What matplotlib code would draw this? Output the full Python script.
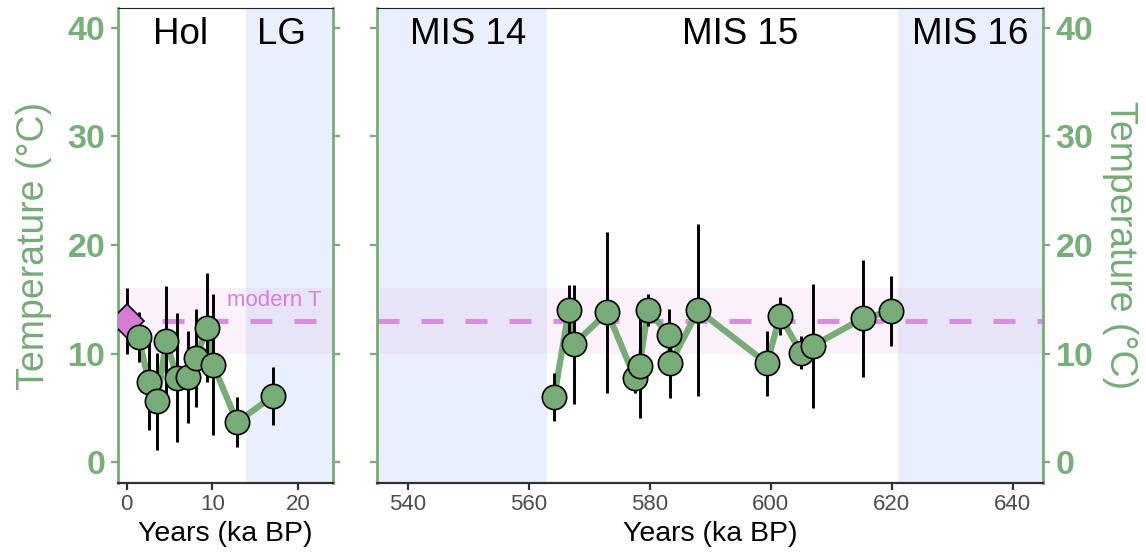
import matplotlib
matplotlib.use("Agg")
import matplotlib.pyplot as plt

# Holocene / Last Glacial reconstruction (ka BP, degC, 1-sigma)
hol_age = [1.4, 2.6, 3.6, 4.6, 5.9, 7.2, 8.1, 9.4, 10.1, 12.9, 17.1]
hol_temp = [11.5, 7.4, 5.6, 11.2, 7.8, 7.85, 9.6, 12.4, 9.0, 3.7, 6.1]
hol_err = [2.3, 4.4, 4.5, 5.0, 5.9, 4.2, 4.5, 5.0, 6.5, 2.3, 2.7]

# MIS 15 reconstruction
mis_age = [564.2, 566.6, 567.4, 573.0, 577.5, 578.3, 579.7, 583.2, 583.4,
           588.0, 599.4, 601.5, 605.0, 606.9, 615.2, 619.9]
mis_temp = [6.0, 14.0, 10.85, 13.8, 7.8, 8.9, 14.0, 11.7, 9.1,
            14.0, 9.1, 13.5, 10.1, 10.7, 13.25, 13.9]
mis_err = [2.2, 2.3, 5.5, 7.4, 1.4, 4.85, 1.5, 2.4, 3.2,
           7.9, 3.0, 1.75, 1.5, 5.7, 5.4, 3.2]

# Modern temperature and its range
modern_age = 0.0
modern_t = 13.0
modern_err = 3.0

# Period boundaries (ka BP)
lg_start = 14.0
mis14_end = 563.0
mis16_start = 621.0

yticks = [0, 10, 20, 30, 40]

GREEN = "#77AB78"
TICKGREEN = "#79AE7A"
BLUE_BAND = "#E9EFFC"
PINK = "#E7A6E7"
DASH = "#D88EE0"
DIAMOND = "#D57AD6"

plt.rcParams["font.family"] = ["Liberation Sans", "DejaVu Sans"]

W, H = 1146, 558
fig = plt.figure(figsize=(W / 100, H / 100), dpi=100)
axL = fig.add_axes([118 / W, 1 - 483 / H, (333 - 118) / W, (483 - 8) / H])
axR = fig.add_axes([377 / W, 1 - 483 / H, (1043 - 377) / W, (483 - 8) / H])

YLIM = (-1.9, 41.8)
axL.set_xlim(-1.0, 24.1)
axR.set_xlim(534.9, 645.0)


def draw_panel(ax, age, temp, err):
    x0, x1 = ax.get_xlim()
    ax.axhspan(modern_t - modern_err, modern_t + modern_err, color=PINK,
               alpha=0.15, lw=0, zorder=1)
    ax.plot([x0, x1], [modern_t, modern_t], color=DASH, lw=3.6,
            dashes=(4.4, 4.4), zorder=2, solid_capstyle="butt",
            dash_capstyle="butt")
    ax.plot(age, temp, color=GREEN, lw=4.5, zorder=3,
            solid_joinstyle="round")
    ax.errorbar(age, temp, yerr=err, fmt="none", ecolor="black",
                elinewidth=2.1, capsize=0, zorder=4)
    ax.plot(age, temp, "o", ms=17.5, mfc=GREEN, mec="black", mew=1.2,
            zorder=5, linestyle="none")
    ax.set_xlim(x0, x1)
    ax.set_ylim(*YLIM)
    ax.set_yticks(yticks)
    for s in ("left", "right"):
        ax.spines[s].set_color(GREEN)
        ax.spines[s].set_linewidth(2.0)
    ax.spines["bottom"].set_color("#333333")
    ax.spines["bottom"].set_linewidth(1.6)
    ax.spines["top"].set_color("#222222")
    ax.spines["top"].set_linewidth(0.8)
    ax.tick_params(axis="y", which="both", left=True, right=True,
                   color=GREEN, width=1.6, length=5, direction="out",
                   labelsize=24.5, labelcolor=TICKGREEN, pad=4)
    ax.tick_params(axis="x", color="#333333", width=1.6, length=5,
                   labelsize=16, labelcolor="#4D4D4D", pad=3)
    ax.set_xlabel("Years (ka BP)", fontsize=20.5, color="black", labelpad=4)


# Left panel: Holocene and Last Glacial
axL.axvspan(lg_start, 30, color=BLUE_BAND, lw=0, zorder=0)
draw_panel(axL, hol_age, hol_temp, hol_err)
axL.errorbar([modern_age], [modern_t], yerr=[modern_err], fmt="none",
             ecolor="black", elinewidth=2.1, capsize=0, zorder=4)
axL.plot([modern_age], [modern_t], "D", ms=17, mfc=DIAMOND, mec="black",
         mew=1.2, zorder=4.5)
axL.text(22.8, 14.85, "modern T", color="#D67FDB", fontsize=16,
         ha="right", va="center", zorder=6)
axL.set_xticks([0, 10, 20])
axL.tick_params(axis="y", labelleft=True, labelright=False)
for lbl in axL.get_yticklabels():
    lbl.set_fontweight("bold")
axL.set_ylabel("Temperature (°C)", fontsize=27, color=GREEN, labelpad=11)
axL.text(6.35, 39.4, "Hol", fontsize=26.5, ha="center", va="center")
axL.text(18.1, 39.4, "LG", fontsize=26.5, ha="center", va="center")

# Right panel: MIS 14 - MIS 16
axR.axvspan(500, mis14_end, color=BLUE_BAND, lw=0, zorder=0)
axR.axvspan(mis16_start, 700, color=BLUE_BAND, lw=0, zorder=0)
draw_panel(axR, mis_age, mis_temp, mis_err)
axR.set_xticks([540, 560, 580, 600, 620, 640])
axR.tick_params(axis="y", labelleft=False, labelright=True)
for lbl in axR.get_yticklabels():
    lbl.set_fontweight("bold")
axR.yaxis.set_label_position("right")
axR.set_ylabel("Temperature (°C)", fontsize=27, color=GREEN, rotation=-90,
               labelpad=32)
axR.text(550.0, 39.4, "MIS 14", fontsize=26.5, ha="center", va="center")
axR.text(595.0, 39.4, "MIS 15", fontsize=26.5, ha="center", va="center")
axR.text(633.0, 39.4, "MIS 16", fontsize=26.5, ha="center", va="center")

fig.savefig("out.png", dpi=100)
